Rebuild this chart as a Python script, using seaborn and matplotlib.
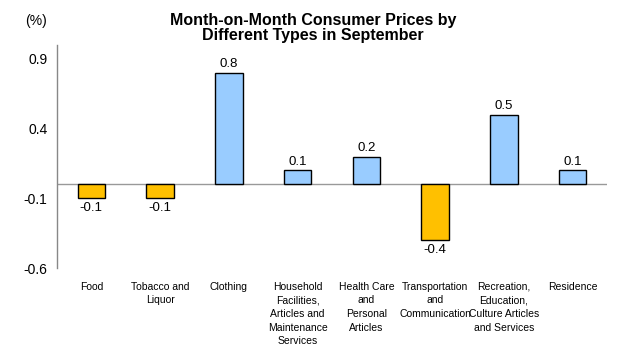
import matplotlib
matplotlib.use("Agg")
import matplotlib.pyplot as plt
import seaborn as sns
import pandas as pd

categories = ["Food", "Tobacco and\nLiquor", "Clothing",
              "Household\nFacilities,\nArticles and\nMaintenance\nServices",
              "Health Care\nand\nPersonal\nArticles",
              "Transportation\nand\nCommunication",
              "Recreation,\nEducation,\nCulture Articles\nand Services",
              "Residence"]
values = [-0.1, -0.1, 0.8, 0.1, 0.2, -0.4, 0.5, 0.1]
yticks = [-0.6, -0.1, 0.4, 0.9]

sns.set_theme(style="white")
plt.rcParams['font.family'] = ['Liberation Sans', 'DejaVu Sans']
plt.rcParams['text.color'] = 'black'
plt.rcParams['xtick.color'] = 'black'
plt.rcParams['ytick.color'] = 'black'

df = pd.DataFrame({"cat": categories, "val": values})
df["sign"] = ["neg" if v < 0 else "pos" for v in values]

fig = plt.figure(figsize=(6.21, 3.52), dpi=100)
ax = fig.add_axes([57/621, 1-268/352, (607-57)/621, (268-45)/352])

sns.barplot(data=df, x="cat", y="val", hue="sign",
            palette={"neg": "#FFC000", "pos": "#99CCFF"}, saturation=1,
            dodge=False, width=0.4, edgecolor="black", linewidth=1.0,
            legend=False, ax=ax)

ax.set_ylim(-0.6, 1.0)
ax.set_xlim(-0.5, len(categories) - 0.5)
ax.set_yticks(yticks)
ax.set_yticklabels([f"{t:.1f}" for t in yticks], fontsize=10)
ax.set_xlabel("")
ax.set_ylabel("")
ax.tick_params(axis="x", length=0, pad=10, labelsize=7.5, labelcolor="black")
ax.tick_params(axis="y", length=4, width=1, color="#888888", direction="out",
               pad=3, labelcolor="black")
for lbl in ax.get_xticklabels():
    lbl.set_va("top")
    lbl.set_linespacing(1.45)

for s in ["top", "right", "bottom"]:
    ax.spines[s].set_visible(False)
ax.spines["left"].set_color("#888888")
ax.spines["left"].set_linewidth(1)
ax.axhline(0, color="#999999", linewidth=1, zorder=0.5)

for i, v in enumerate(values):
    if v >= 0:
        ax.annotate(f"{v:.1f}", (i, v), xytext=(0, 2), textcoords="offset points",
                    ha="center", va="bottom", fontsize=9.5, color="black")
    else:
        ax.annotate(f"{v:.1f}", (i, v), xytext=(0, -3), textcoords="offset points",
                    ha="center", va="top", fontsize=9.5, color="black")

fig.text(313/621, 1-28/352, "Month-on-Month Consumer Prices by\nDifferent Types in September",
         ha="center", va="center", fontsize=11.5, fontweight="bold", linespacing=1.05,
         color="black")
fig.text(36/621, 1-21/352, "(%)", ha="center", va="center", fontsize=10, color="black")

fig.savefig("out.png", dpi=100)
